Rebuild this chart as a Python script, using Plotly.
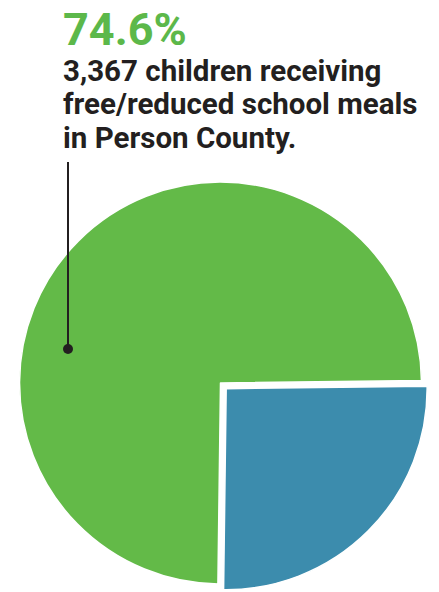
import plotly.graph_objects as go

W, H = 439, 592

labels = ["Not receiving free/reduced meals", "Receiving free/reduced meals"]
values = [25.4, 74.6]
colors = ["#3c8cad", "#63ba48"]
pulls = [0.04, 0.0]

headline = "74.6%"
caption_lines = ["3,367 children receiving", "free/reduced school meals", "in Person County."]

fig = go.Figure(go.Pie(
    labels=labels, values=values, sort=False, direction="clockwise", rotation=89.3,
    pull=pulls, marker=dict(colors=colors, line=dict(width=1.5, color="white")),
    textinfo="none", hoverinfo="label+percent", showlegend=False,
    domain=dict(x=[(220.5 - 209) / W, (220.5 + 209) / W], y=[0, 418 / H]),
))

def px(x):
    return x / W

def py(y):
    return 1 - y / H

annotations = [dict(
    text=f"<b>{headline}</b>", x=px(61), y=py(29), xref="paper", yref="paper",
    xanchor="left", yanchor="middle", showarrow=False,
    font=dict(family="Roboto", size=45, color="#5cb84a"),
)]
for i, (line, yy) in enumerate(zip(caption_lines, [71, 104, 138])):
    annotations.append(dict(
        text=f"<b>{line}</b>", x=px(61), y=py(yy), xref="paper", yref="paper",
        xanchor="left", yanchor="middle", showarrow=False,
        font=dict(family="Roboto", size=29.5, color="#231f20"),
    ))

shapes = [
    dict(type="line", xref="paper", yref="paper", x0=px(68), x1=px(68), y0=py(162), y1=py(349),
         line=dict(color="#231f20", width=2)),
    dict(type="circle", xref="paper", yref="paper", x0=px(63), x1=px(73), y0=py(344), y1=py(354),
         fillcolor="#231f20", line=dict(width=0)),
]

fig.update_layout(
    width=W, height=H, margin=dict(l=0, r=0, t=0, b=0),
    paper_bgcolor="white", plot_bgcolor="white",
    annotations=annotations, shapes=shapes,
)

fig.write_html("out.html", config={"displayModeBar": False},
               post_script="document.body.style.margin='0';")
